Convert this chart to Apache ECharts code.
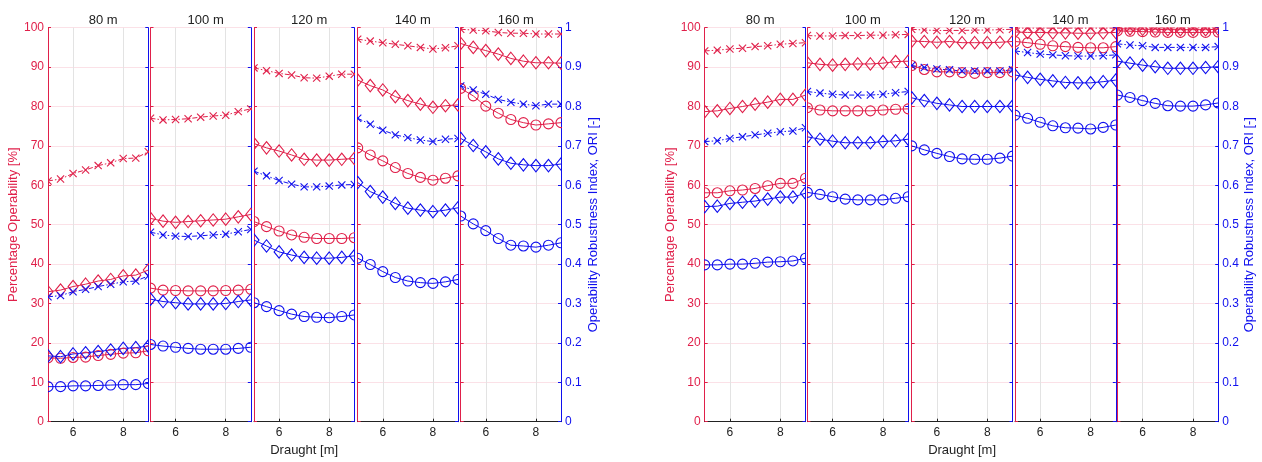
<!DOCTYPE html>
<html>
<head>
<meta charset="utf-8">
<script src="https://cdn.jsdelivr.net/npm/echarts@6/dist/echarts.min.js"></script>
<style>html,body{margin:0;padding:0;background:#fff;}#c{width:1262px;height:462px;}</style>
</head>
<body>
<div id="c"></div>
<script>
// ---- data ----
const draught = [5, 5.5, 6, 6.5, 7, 7.5, 8, 8.5, 9];
const lengths = ['80 m', '100 m', '120 m', '140 m', '160 m'];

// Left chart: percentage operability (red) and ORI (blue); one row per length
const A_opCross = [
  [61.1, 61.6, 63.0, 63.9, 65.0, 65.7, 66.8, 66.9, 68.5],
  [77.0, 76.6, 76.7, 76.9, 77.3, 77.6, 77.8, 78.7, 79.4],
  [89.8, 89.1, 88.4, 88.0, 87.3, 87.2, 87.7, 88.2, 88.2],
  [97.1, 96.6, 96.2, 95.8, 95.4, 95.0, 94.6, 94.9, 95.4],
  [99.6, 99.4, 99.2, 98.8, 98.6, 98.6, 98.4, 98.4, 98.4]
];
const A_opDiamond = [
  [33.0, 33.4, 34.3, 34.9, 35.7, 36.1, 37.0, 37.2, 38.5],
  [51.6, 50.9, 50.6, 50.8, 51.0, 51.2, 51.4, 52.0, 52.6],
  [70.6, 69.5, 68.7, 67.7, 66.6, 66.4, 66.4, 66.6, 66.8],
  [86.7, 85.3, 84.2, 82.5, 81.5, 80.6, 79.8, 80.2, 80.4],
  [96.0, 95.0, 94.2, 93.3, 92.2, 91.5, 91.1, 91.1, 91.0]
];
const A_opCircle = [
  [16.2, 16.1, 16.3, 16.4, 16.8, 17.1, 17.4, 17.5, 18.0],
  [33.9, 33.4, 33.3, 33.2, 33.2, 33.2, 33.3, 33.4, 33.6],
  [50.8, 49.5, 48.4, 47.4, 46.8, 46.5, 46.5, 46.5, 46.7],
  [69.5, 67.7, 66.2, 64.5, 63.0, 62.0, 61.3, 61.8, 62.4],
  [84.6, 82.7, 80.1, 78.3, 76.7, 75.9, 75.3, 75.6, 75.9]
];
const A_oriCross = [
  [0.317, 0.320, 0.330, 0.336, 0.343, 0.349, 0.355, 0.357, 0.370],
  [0.481, 0.474, 0.471, 0.470, 0.472, 0.474, 0.476, 0.482, 0.488],
  [0.636, 0.624, 0.612, 0.603, 0.596, 0.596, 0.598, 0.601, 0.602],
  [0.770, 0.755, 0.740, 0.728, 0.721, 0.715, 0.711, 0.717, 0.719],
  [0.852, 0.842, 0.831, 0.818, 0.811, 0.806, 0.802, 0.806, 0.806]
];
const A_oriDiamond = [
  [0.167, 0.165, 0.172, 0.175, 0.178, 0.182, 0.186, 0.188, 0.192],
  [0.311, 0.305, 0.302, 0.299, 0.299, 0.299, 0.300, 0.305, 0.309],
  [0.461, 0.446, 0.431, 0.423, 0.417, 0.415, 0.415, 0.417, 0.421],
  [0.607, 0.584, 0.570, 0.554, 0.542, 0.537, 0.533, 0.537, 0.543],
  [0.719, 0.701, 0.685, 0.667, 0.656, 0.652, 0.650, 0.650, 0.654]
];
const A_oriCircle = [
  [0.089, 0.089, 0.091, 0.091, 0.092, 0.093, 0.094, 0.094, 0.097],
  [0.196, 0.192, 0.189, 0.186, 0.184, 0.184, 0.184, 0.186, 0.189],
  [0.302, 0.292, 0.282, 0.273, 0.267, 0.265, 0.264, 0.267, 0.271],
  [0.415, 0.399, 0.381, 0.366, 0.357, 0.353, 0.351, 0.355, 0.361],
  [0.522, 0.502, 0.485, 0.465, 0.448, 0.446, 0.443, 0.448, 0.454]
];

// Right chart
const B_opCross = [
  [94.1, 94.3, 94.6, 94.8, 95.2, 95.4, 95.8, 96.0, 96.2],
  [98.0, 97.9, 97.9, 98.0, 98.0, 98.1, 98.1, 98.2, 98.3],
  [99.6, 99.4, 99.3, 99.3, 99.3, 99.4, 99.4, 99.5, 99.6],
  [99.9, 99.9, 99.9, 99.9, 99.9, 99.9, 99.9, 99.9, 99.9],
  [99.95, 99.95, 99.95, 99.95, 99.95, 99.95, 99.95, 99.95, 99.95]
];
const B_opDiamond = [
  [78.7, 78.9, 79.5, 80.0, 80.6, 81.1, 81.8, 81.8, 82.9],
  [91.1, 90.7, 90.5, 90.7, 90.8, 90.8, 91.0, 91.4, 91.5],
  [96.6, 96.5, 96.3, 96.5, 96.2, 96.2, 96.2, 96.3, 96.5],
  [98.9, 98.8, 98.8, 98.7, 98.7, 98.6, 98.6, 98.7, 98.8],
  [99.7, 99.7, 99.6, 99.6, 99.5, 99.5, 99.5, 99.5, 99.6]
];
const B_opCircle = [
  [58.1, 58.1, 58.6, 58.8, 59.2, 59.9, 60.5, 60.5, 61.8],
  [79.7, 79.1, 78.9, 78.9, 78.9, 78.9, 79.1, 79.3, 79.4],
  [90.4, 89.4, 88.8, 88.8, 88.6, 88.4, 88.6, 88.6, 88.8],
  [96.5, 96.2, 95.8, 95.4, 95.2, 95.0, 94.9, 94.9, 95.2],
  [99.2, 99.1, 99.0, 98.9, 98.8, 98.8, 98.8, 98.8, 98.9]
];
const B_oriCross = [
  [0.711, 0.713, 0.719, 0.723, 0.728, 0.732, 0.736, 0.738, 0.746],
  [0.838, 0.834, 0.831, 0.829, 0.829, 0.829, 0.831, 0.835, 0.838],
  [0.904, 0.899, 0.895, 0.893, 0.890, 0.890, 0.890, 0.890, 0.893],
  [0.941, 0.937, 0.933, 0.931, 0.929, 0.928, 0.928, 0.929, 0.931],
  [0.959, 0.956, 0.954, 0.950, 0.950, 0.950, 0.950, 0.950, 0.952]
];
const B_oriDiamond = [
  [0.546, 0.547, 0.554, 0.557, 0.560, 0.565, 0.570, 0.570, 0.580],
  [0.723, 0.717, 0.712, 0.708, 0.708, 0.708, 0.711, 0.713, 0.717],
  [0.822, 0.815, 0.808, 0.804, 0.800, 0.800, 0.800, 0.800, 0.801],
  [0.880, 0.874, 0.869, 0.865, 0.861, 0.860, 0.860, 0.863, 0.867],
  [0.915, 0.910, 0.905, 0.901, 0.897, 0.897, 0.897, 0.899, 0.901]
];
const B_oriCircle = [
  [0.398, 0.398, 0.400, 0.400, 0.402, 0.405, 0.406, 0.408, 0.415],
  [0.582, 0.577, 0.571, 0.565, 0.563, 0.563, 0.563, 0.567, 0.571],
  [0.700, 0.690, 0.681, 0.673, 0.667, 0.666, 0.666, 0.669, 0.674],
  [0.778, 0.770, 0.760, 0.751, 0.746, 0.745, 0.743, 0.747, 0.753],
  [0.829, 0.823, 0.815, 0.808, 0.802, 0.801, 0.801, 0.804, 0.809]
];

const leftAxisName = 'Percentage Operability [%]';
const rightAxisName = 'Operability Robustness Index, ORI [-]';
const xAxisName = 'Draught [m]';

// ---- styling / layout ----
const RED = '#e0204a';
const BLUE = '#1010ee';
const FONT = 'Liberation Sans, Arial, Helvetica, sans-serif';
const panels = [
  { lefts: [48, 150.5, 254, 357.7, 460.7], w: 100.3, nameGapL: 26, nameGapR: 26,
    data: [A_opCross, A_opDiamond, A_opCircle, A_oriCross, A_oriDiamond, A_oriCircle] },
  { lefts: [704.7, 807.4, 911.7, 1015, 1117.4], w: 100.8, nameGapL: 26, nameGapR: 25,
    data: [B_opCross, B_opDiamond, B_opCircle, B_oriCross, B_oriDiamond, B_oriCircle] }
];
const TOP = 27.7, H = 394;
const markers = [
  { kind: 'cross', color: RED, axis: 0, dash: [5, 2, 1.5, 2] },
  { kind: 'diamond', color: RED, axis: 0, dash: 'solid' },
  { kind: 'circle', color: RED, axis: 0, dash: 'solid' },
  { kind: 'cross', color: BLUE, axis: 1, dash: [5, 2, 1.5, 2] },
  { kind: 'diamond', color: BLUE, axis: 1, dash: 'solid' },
  { kind: 'circle', color: BLUE, axis: 1, dash: 'solid' }
];

function markerRenderer(kind, color) {
  return function (params, api) {
    const pt = api.coord([api.value(0), api.value(1)]);
    const x = pt[0], y = pt[1];
    const style = { fill: 'none', stroke: color, lineWidth: 1.1 };
    if (kind === 'circle') {
      return { type: 'circle', shape: { cx: x, cy: y, r: 5 }, style };
    }
    if (kind === 'diamond') {
      return { type: 'polygon', shape: { points: [[x, y - 6.2], [x + 5, y], [x, y + 6.2], [x - 5, y]] }, style };
    }
    const d = 3.6;
    return {
      type: 'group', children: [
        { type: 'line', shape: { x1: x - d, y1: y - d, x2: x + d, y2: y + d }, style },
        { type: 'line', shape: { x1: x - d, y1: y + d, x2: x + d, y2: y - d }, style }
      ]
    };
  };
}

const grid = [], xAxis = [], yAxis = [], series = [], title = [];
panels.forEach((p, pi) => {
  p.lefts.forEach((lx, s) => {
    const gi = grid.length;
    grid.push({ left: lx, top: TOP, width: p.w, height: H, containLabel: false });
    title.push({
      text: lengths[s], left: lx + p.w / 2, top: 9, textAlign: 'center',
      textStyle: { fontSize: 13, fontWeight: 'normal', color: '#222', fontFamily: FONT }
    });
    xAxis.push({
      gridIndex: gi, type: 'value', min: 5, max: 9, splitNumber: 2,
      name: s === 2 ? xAxisName : '', nameLocation: 'middle', nameGap: 20,
      nameTextStyle: { fontSize: 13, color: '#222', fontFamily: FONT },
      axisLine: { show: true, onZero: false, lineStyle: { color: '#222', width: 1 } },
      axisTick: { show: true, inside: true, length: 3, lineStyle: { color: '#222' } },
      axisLabel: { show: true, showMinLabel: false, showMaxLabel: false, fontSize: 12, color: '#222', margin: 5, fontFamily: FONT },
      splitLine: { show: true, lineStyle: { color: '#e3e3e3', width: 1 } }
    });
    yAxis.push({
      gridIndex: gi, type: 'value', min: 0, max: 100, interval: 10, position: 'left',
      name: s === 0 ? leftAxisName : '', nameLocation: 'middle', nameGap: p.nameGapL, nameRotate: 90,
      nameTextStyle: { fontSize: 13, color: RED, fontFamily: FONT },
      axisLine: { show: true, lineStyle: { color: RED, width: 1 } },
      axisTick: { show: true, inside: true, length: 3, lineStyle: { color: RED } },
      axisLabel: { show: s === 0, fontSize: 12, color: RED, margin: 4, fontFamily: FONT },
      splitLine: { show: true, lineStyle: { color: '#fbe1e7', width: 1 } }
    });
    yAxis.push({
      gridIndex: gi, type: 'value', min: 0, max: 1, interval: 0.1, position: 'right',
      name: s === 4 ? rightAxisName : '', nameLocation: 'middle', nameGap: p.nameGapR, nameRotate: 90,
      nameTextStyle: { fontSize: 13, color: BLUE, fontFamily: FONT },
      axisLine: { show: true, lineStyle: { color: BLUE, width: 1 } },
      axisTick: { show: true, inside: true, length: 3, lineStyle: { color: BLUE } },
      axisLabel: { show: s === 4, fontSize: 12, color: BLUE, margin: 4, fontFamily: FONT,
        formatter: v => String(Math.round(v * 10) / 10) },
      splitLine: { show: false }
    });
    markers.forEach((m, k) => {
      const vals = p.data[k][s];
      const pts = draught.map((d, j) => [d, vals[j]]);
      series.push({
        type: 'line', xAxisIndex: gi, yAxisIndex: gi * 2 + m.axis,
        data: pts, symbol: 'none', clip: true,
        animation: false, silent: true,
        lineStyle: { color: m.color, width: 1, type: m.dash },
        emphasis: { disabled: true }, z: 3
      });
      series.push({
        type: 'custom', xAxisIndex: gi, yAxisIndex: gi * 2 + m.axis,
        data: pts, encode: { x: 0, y: 1 }, clip: true,
        renderItem: markerRenderer(m.kind, m.color),
        animation: false, silent: true, z: 4
      });
    });
  });
});

const chart = echarts.init(document.getElementById('c'), null, { renderer: 'canvas' });
chart.setOption({
  backgroundColor: '#fff', animation: false,
  textStyle: { fontFamily: FONT },
  title, grid, xAxis, yAxis, series
});
</script>
</body>
</html>
